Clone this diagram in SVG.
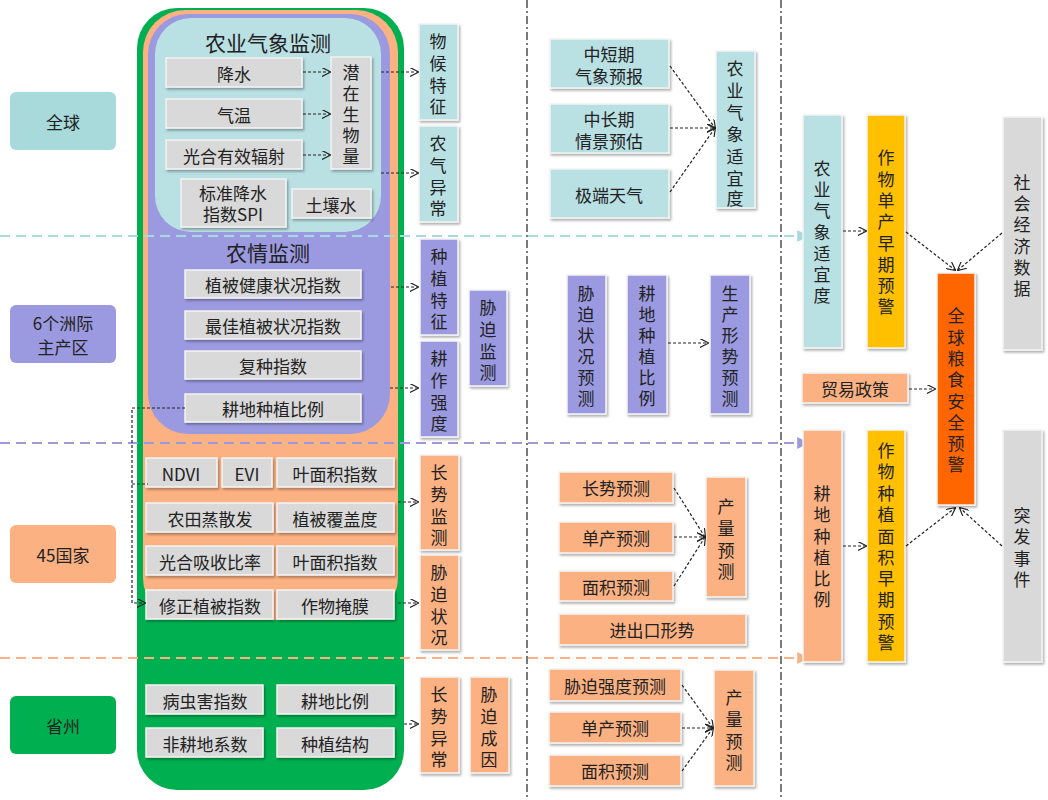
<svg xmlns="http://www.w3.org/2000/svg" width="1048" height="800" viewBox="0 0 1048 800">
<style>
text{font-family:"Noto Sans CJK SC","Liberation Sans",sans-serif;fill:#222;text-anchor:middle;dominant-baseline:central;font-size:17px}
.g{fill:#d9d9d9;stroke:#f4f4f4;stroke-width:1.5;filter:url(#sh)}
.c{fill:#b9e0e2;stroke:#f4f4f4;stroke-width:1.5;filter:url(#sh)}
.p{fill:#9b9ae0;stroke:#f4f4f4;stroke-width:1.5;filter:url(#sh)}
.o{fill:#fbb182;stroke:#f4f4f4;stroke-width:1.5;filter:url(#sh)}
.y{fill:#ffc000;stroke:#f4f4f4;stroke-width:1.5;filter:url(#sh)}
.r{fill:#ff6600;stroke:#f4f4f4;stroke-width:1.5;filter:url(#sh)}
.a{fill:none;stroke:#222;stroke-width:1.2;stroke-dasharray:3,2;marker-end:url(#ar)}
.big{font-size:21px}
</style>
<defs>
<filter id="sh" x="-10%" y="-10%" width="130%" height="130%"><feDropShadow dx="1.5" dy="2" stdDeviation="1.2" flood-color="#000" flood-opacity="0.3"/></filter>
<marker id="ar" viewBox="0 0 10 10" refX="9" refY="5" markerWidth="9" markerHeight="9" orient="auto" markerUnits="userSpaceOnUse"><path d="M0,0 L10,5 L0,10" fill="none" stroke="#222" stroke-width="1.3"/></marker>
<marker id="tc" viewBox="0 0 10 10" refX="9" refY="5" markerWidth="12" markerHeight="12" orient="auto" markerUnits="userSpaceOnUse"><path d="M0,0 L10,5 L0,10z" fill="#a8dadc"/></marker>
<marker id="tp" viewBox="0 0 10 10" refX="9" refY="5" markerWidth="12" markerHeight="12" orient="auto" markerUnits="userSpaceOnUse"><path d="M0,0 L10,5 L0,10z" fill="#9b9ae0"/></marker>
<marker id="to" viewBox="0 0 10 10" refX="9" refY="5" markerWidth="12" markerHeight="12" orient="auto" markerUnits="userSpaceOnUse"><path d="M0,0 L10,5 L0,10z" fill="#fbb182"/></marker>
</defs>
<rect width="1048" height="800" fill="#fff"/>
<g id="separators">
<line x1="527" y1="0" x2="527" y2="800" stroke="#333" stroke-width="1.3" stroke-dasharray="8,3,2,3"/>
<line x1="781" y1="0" x2="781" y2="800" stroke="#333" stroke-width="1.3" stroke-dasharray="8,3,2,3"/>
</g>
<g id="containers">
<rect x="137" y="8" width="267" height="782" rx="40" fill="#00b050"/>
<rect x="143" y="10" width="255" height="610" rx="42" fill="#fbb182"/>
<rect x="148" y="14" width="242" height="420" rx="40" fill="#9b9ae0"/>
<rect x="155" y="18" width="226" height="214" rx="36" fill="#b9e0e2"/>
<text x="268" y="42" class="big">农业气象监测</text>
<text x="268" y="252" class="big">农情监测</text>
</g>
<g id="levels">
<line x1="0" y1="236" x2="808" y2="236" stroke="#a8dadc" stroke-width="2" stroke-dasharray="10,6" marker-end="url(#tc)"/>
<line x1="0" y1="443" x2="808" y2="443" stroke="#9b9ae0" stroke-width="2" stroke-dasharray="10,6" marker-end="url(#tp)"/>
<line x1="0" y1="658" x2="808" y2="658" stroke="#fbb182" stroke-width="2" stroke-dasharray="10,6" marker-end="url(#to)"/>
<g id="lv1"><rect x="10" y="92" width="106" height="58" rx="6" fill="#a8dadc"/><text x="63" y="121">全球</text></g>
<g id="lv2"><rect x="10" y="305" width="106" height="58" rx="6" fill="#9b9ae0"/><text x="63" y="322">6个洲际</text><text x="63" y="346">主产区</text></g>
<g id="lv3"><rect x="10" y="525" width="106" height="58" rx="6" fill="#fbb182"/><text x="63" y="554">45国家</text></g>
<g id="lv4"><rect x="10" y="696" width="106" height="58" rx="6" fill="#00b050"/><text x="63" y="725">省州</text></g>
</g>
<g id="monitor">
<g id="n1"><rect class="g" x="166" y="58" width="136" height="29"/><text x="234" y="73">降水</text></g>
<g id="n2"><rect class="g" x="166" y="99" width="136" height="29"/><text x="234" y="114">气温</text></g>
<g id="n3"><rect class="g" x="166" y="140" width="136" height="29"/><text x="234" y="155">光合有效辐射</text></g>
<g id="n4"><rect class="g" x="331" y="57" width="40" height="112"/><text x="351"><tspan x="351" y="71">潜</tspan><tspan x="351" y="92">在</tspan><tspan x="351" y="113">生</tspan><tspan x="351" y="134">物</tspan><tspan x="351" y="155">量</tspan></text></g>
<g id="n5"><rect class="g" x="181" y="179" width="105" height="48"/><text x="233" y="192">标准降水</text><text x="233" y="213">指数SPI</text></g>
<g id="n6"><rect class="g" x="292" y="189" width="79" height="29"/><text x="331" y="204">土壤水</text></g>
<g id="n7"><rect class="c" x="419" y="24" width="39" height="96"/><text><tspan x="438" y="40">物</tspan><tspan x="438" y="62">候</tspan><tspan x="438" y="84">特</tspan><tspan x="438" y="105">征</tspan></text></g>
<g id="n8"><rect class="c" x="419" y="126" width="39" height="96"/><text><tspan x="438" y="142">农</tspan><tspan x="438" y="164">气</tspan><tspan x="438" y="186">异</tspan><tspan x="438" y="207">常</tspan></text></g>
<g id="n9"><rect class="g" x="185" y="270" width="176" height="28"/><text x="273" y="284">植被健康状况指数</text></g>
<g id="n10"><rect class="g" x="185" y="311" width="176" height="28"/><text x="273" y="325">最佳植被状况指数</text></g>
<g id="n11"><rect class="g" x="185" y="351" width="176" height="28"/><text x="273" y="365">复种指数</text></g>
<g id="n12"><rect class="g" x="185" y="394" width="176" height="28"/><text x="273" y="408">耕地种植比例</text></g>
<g id="n13"><rect class="p" x="420" y="239" width="38" height="96"/><text><tspan x="439" y="255">种</tspan><tspan x="439" y="277">植</tspan><tspan x="439" y="299">特</tspan><tspan x="439" y="320">征</tspan></text></g>
<g id="n14"><rect class="p" x="420" y="341" width="38" height="96"/><text><tspan x="439" y="357">耕</tspan><tspan x="439" y="379">作</tspan><tspan x="439" y="401">强</tspan><tspan x="439" y="422">度</tspan></text></g>
<g id="n15"><rect class="p" x="469" y="290" width="38" height="96"/><text><tspan x="488" y="306">胁</tspan><tspan x="488" y="328">迫</tspan><tspan x="488" y="350">监</tspan><tspan x="488" y="371">测</tspan></text></g>
<g id="n16"><rect class="g" x="146" y="458" width="71" height="29"/><text x="181" y="473">NDVI</text></g>
<g id="n17"><rect class="g" x="222" y="458" width="50" height="29"/><text x="247" y="473">EVI</text></g>
<g id="n18"><rect class="g" x="277" y="458" width="117" height="29"/><text x="335" y="473">叶面积指数</text></g>
<g id="n19"><rect class="g" x="146" y="503" width="127" height="29"/><text x="210" y="518">农田蒸散发</text></g>
<g id="n20"><rect class="g" x="277" y="503" width="117" height="29"/><text x="335" y="518">植被覆盖度</text></g>
<g id="n21"><rect class="g" x="146" y="546" width="127" height="29"/><text x="210" y="561">光合吸收比率</text></g>
<g id="n22"><rect class="g" x="277" y="546" width="117" height="29"/><text x="335" y="561">叶面积指数</text></g>
<g id="n23"><rect class="g" x="146" y="590" width="127" height="29"/><text x="210" y="605">修正植被指数</text></g>
<g id="n24"><rect class="g" x="277" y="590" width="117" height="29"/><text x="335" y="605">作物掩膜</text></g>
<g id="n25"><rect class="o" x="420" y="455" width="39" height="95"/><text><tspan x="439" y="471">长</tspan><tspan x="439" y="493">势</tspan><tspan x="439" y="515">监</tspan><tspan x="439" y="536">测</tspan></text></g>
<g id="n26"><rect class="o" x="420" y="555" width="39" height="95"/><text><tspan x="439" y="571">胁</tspan><tspan x="439" y="593">迫</tspan><tspan x="439" y="615">状</tspan><tspan x="439" y="636">况</tspan></text></g>
<g id="n27"><rect class="g" x="146" y="685" width="117" height="29"/><text x="205" y="700">病虫害指数</text></g>
<g id="n28"><rect class="g" x="277" y="685" width="117" height="29"/><text x="335" y="700">耕地比例</text></g>
<g id="n29"><rect class="g" x="146" y="728" width="117" height="29"/><text x="205" y="743">非耕地系数</text></g>
<g id="n30"><rect class="g" x="277" y="728" width="117" height="29"/><text x="335" y="743">种植结构</text></g>
<g id="n31"><rect class="o" x="420" y="677" width="39" height="96"/><text><tspan x="439" y="693">长</tspan><tspan x="439" y="715">势</tspan><tspan x="439" y="737">异</tspan><tspan x="439" y="758">常</tspan></text></g>
<g id="n32"><rect class="o" x="470" y="677" width="39" height="96"/><text><tspan x="489" y="693">胁</tspan><tspan x="489" y="715">迫</tspan><tspan x="489" y="737">成</tspan><tspan x="489" y="758">因</tspan></text></g>
</g>
<g id="forecast">
<g id="f1"><rect class="c" x="550" y="39" width="119" height="49"/><text x="609" y="53">中短期</text><text x="609" y="75">气象预报</text></g>
<g id="f2"><rect class="c" x="550" y="104" width="119" height="49"/><text x="609" y="118">中长期</text><text x="609" y="140">情景预估</text></g>
<g id="f3"><rect class="c" x="550" y="169" width="119" height="49"/><text x="609" y="194">极端天气</text></g>
<g id="f4"><rect class="c" x="716" y="51" width="39" height="157"/><text><tspan x="735" y="67">农</tspan><tspan x="735" y="89">业</tspan><tspan x="735" y="111">气</tspan><tspan x="735" y="133">象</tspan><tspan x="735" y="155">适</tspan><tspan x="735" y="177">宜</tspan><tspan x="735" y="197">度</tspan></text></g>
<g id="f5"><rect class="p" x="567" y="275" width="39" height="139"/><text><tspan x="586" y="292">胁</tspan><tspan x="586" y="313">迫</tspan><tspan x="586" y="334">状</tspan><tspan x="586" y="355">况</tspan><tspan x="586" y="376">预</tspan><tspan x="586" y="397">测</tspan></text></g>
<g id="f6"><rect class="p" x="627" y="275" width="40" height="139"/><text><tspan x="647" y="292">耕</tspan><tspan x="647" y="313">地</tspan><tspan x="647" y="334">种</tspan><tspan x="647" y="355">植</tspan><tspan x="647" y="376">比</tspan><tspan x="647" y="397">例</tspan></text></g>
<g id="f7"><rect class="p" x="710" y="275" width="40" height="139"/><text><tspan x="730" y="292">生</tspan><tspan x="730" y="313">产</tspan><tspan x="730" y="334">形</tspan><tspan x="730" y="355">势</tspan><tspan x="730" y="376">预</tspan><tspan x="730" y="397">测</tspan></text></g>
<g id="f8"><rect class="o" x="559" y="472" width="114" height="31"/><text x="616" y="487">长势预测</text></g>
<g id="f9"><rect class="o" x="559" y="522" width="114" height="31"/><text x="616" y="537">单产预测</text></g>
<g id="f10"><rect class="o" x="559" y="571" width="114" height="30"/><text x="616" y="586">面积预测</text></g>
<g id="f11"><rect class="o" x="706" y="477" width="40" height="120"/><text><tspan x="726" y="505">产</tspan><tspan x="726" y="527">量</tspan><tspan x="726" y="549">预</tspan><tspan x="726" y="570">测</tspan></text></g>
<g id="f12"><rect class="o" x="559" y="614" width="187" height="31"/><text x="652" y="629">进出口形势</text></g>
<g id="f13"><rect class="o" x="549" y="669" width="132" height="32"/><text x="615" y="685">胁迫强度预测</text></g>
<g id="f14"><rect class="o" x="549" y="712" width="132" height="31"/><text x="615" y="727">单产预测</text></g>
<g id="f15"><rect class="o" x="549" y="755" width="132" height="31"/><text x="615" y="770">面积预测</text></g>
<g id="f16"><rect class="o" x="714" y="670" width="40" height="116"/><text><tspan x="734" y="696">产</tspan><tspan x="734" y="718">量</tspan><tspan x="734" y="740">预</tspan><tspan x="734" y="761">测</tspan></text></g>
</g>
<g id="warning">
<g id="w1"><rect class="c" x="803" y="115" width="39" height="233"/><text><tspan x="822" y="167">农</tspan><tspan x="822" y="188">业</tspan><tspan x="822" y="209">气</tspan><tspan x="822" y="231">象</tspan><tspan x="822" y="252">适</tspan><tspan x="822" y="273">宜</tspan><tspan x="822" y="294">度</tspan></text></g>
<g id="w2"><rect class="y" x="867" y="115" width="38" height="233"/><text><tspan x="886" y="156">作</tspan><tspan x="886" y="178">物</tspan><tspan x="886" y="199">单</tspan><tspan x="886" y="220">产</tspan><tspan x="886" y="242">早</tspan><tspan x="886" y="263">期</tspan><tspan x="886" y="284">预</tspan><tspan x="886" y="305">警</tspan></text></g>
<g id="w3"><rect class="r" x="937" y="273" width="38" height="232"/><text><tspan x="956" y="314">全</tspan><tspan x="956" y="336">球</tspan><tspan x="956" y="357">粮</tspan><tspan x="956" y="378">食</tspan><tspan x="956" y="400">安</tspan><tspan x="956" y="421">全</tspan><tspan x="956" y="442">预</tspan><tspan x="956" y="463">警</tspan></text></g>
<g id="w4"><rect class="g" x="1003" y="117" width="39" height="233"/><text><tspan x="1022" y="181">社</tspan><tspan x="1022" y="202">会</tspan><tspan x="1022" y="223">经</tspan><tspan x="1022" y="245">济</tspan><tspan x="1022" y="266">数</tspan><tspan x="1022" y="287">据</tspan></text></g>
<g id="w5"><rect class="o" x="802" y="373" width="106" height="30"/><text x="855" y="388">贸易政策</text></g>
<g id="w6"><rect class="o" x="803" y="430" width="39" height="232"/><text><tspan x="822" y="492">耕</tspan><tspan x="822" y="513">地</tspan><tspan x="822" y="535">种</tspan><tspan x="822" y="556">植</tspan><tspan x="822" y="577">比</tspan><tspan x="822" y="598">例</tspan></text></g>
<g id="w7"><rect class="y" x="867" y="430" width="38" height="232"/><text><tspan x="886" y="449">作</tspan><tspan x="886" y="470">物</tspan><tspan x="886" y="492">种</tspan><tspan x="886" y="513">植</tspan><tspan x="886" y="535">面</tspan><tspan x="886" y="556">积</tspan><tspan x="886" y="577">早</tspan><tspan x="886" y="598">期</tspan><tspan x="886" y="620">预</tspan><tspan x="886" y="641">警</tspan></text></g>
<g id="w8"><rect class="g" x="1003" y="430" width="39" height="232"/><text><tspan x="1022" y="514">突</tspan><tspan x="1022" y="535">发</tspan><tspan x="1022" y="557">事</tspan><tspan x="1022" y="578">件</tspan></text></g>
</g>
<g id="connectors">
<path class="a" d="M303,72H330"/>
<path class="a" d="M303,114H330"/>
<path class="a" d="M303,155H330"/>
<path class="a" d="M381,72H418"/>
<path class="a" d="M381,173H418"/>
<path class="a" d="M391,287H418"/>
<path class="a" d="M390,388H418"/>
<path class="a" d="M185,408H132V603H145"/>
<path d="M132,484H148" fill="none" stroke="#222" stroke-width="1.2" stroke-dasharray="3,2"/>
<path class="a" d="M398,502H418"/>
<path class="a" d="M398,603H418"/>
<path class="a" d="M404,724H418"/>
<path class="a" d="M670,66L715,128"/>
<path class="a" d="M670,128H715"/>
<path class="a" d="M670,192L715,128"/>
<path class="a" d="M668,343H708"/>
<path class="a" d="M674,488L705,537"/>
<path class="a" d="M674,537H705"/>
<path class="a" d="M674,586L705,537"/>
<path class="a" d="M682,685L713,728"/>
<path class="a" d="M682,728H713"/>
<path class="a" d="M682,771L713,728"/>
<path class="a" d="M843,231H866"/>
<path class="a" d="M906,232L955,270"/>
<path class="a" d="M1002,233L958,270"/>
<path class="a" d="M909,389H935"/>
<path class="a" d="M843,546H866"/>
<path class="a" d="M906,546L955,508"/>
<path class="a" d="M1002,546L960,508"/>
</g>
</svg>
